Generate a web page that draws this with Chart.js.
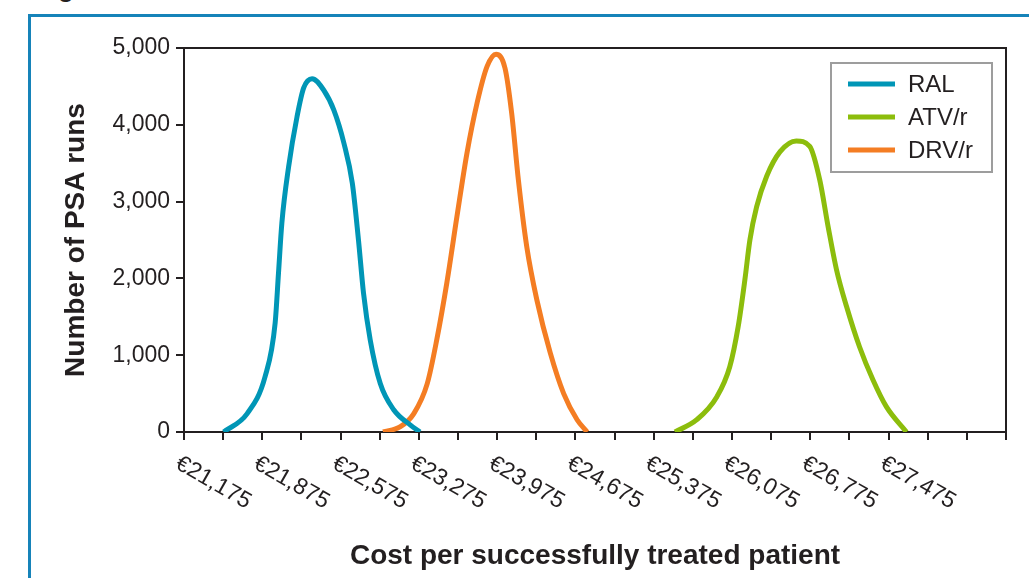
<!DOCTYPE html>
<html>
<head>
<meta charset="utf-8">
<script src="https://cdn.jsdelivr.net/npm/chart.js@4.4.1/dist/chart.umd.min.js"></script>
<style>
  html, body { margin: 0; padding: 0; background: #fff; overflow: hidden; }
  #wrap { position: relative; width: 1029px; height: 578px; overflow: hidden; }
  #frame { position: absolute; left: 28px; top: 14px; width: 1100px; height: 700px; border: 3px solid #1683b9; box-sizing: border-box; }
  #fig { position: absolute; left: 35px; top: -27px; line-height: 30px; font: bold 26px 'Liberation Sans', Arial, sans-serif; color: #231f20; white-space: nowrap; }
  canvas { position: absolute; left: 0; top: 0; }
</style>
</head>
<body>
<div id="wrap">
  <div id="fig">Figure 2</div>
  <div id="frame"></div>
  <canvas id="psaChart" width="1029" height="578"></canvas>
</div>
<script>
// x tick labels (every second tick)
const xTickValues = [21175, 21875, 22575, 23275, 23975, 24675, 25375, 26075, 26775, 27475];
const xTickLabels = ['€21,175', '€21,875', '€22,575', '€23,275', '€23,975', '€24,675', '€25,375', '€26,075', '€26,775', '€27,475'];

const seriesNames = ['RAL', 'ATV/r', 'DRV/r'];
const seriesColors = ['#0096b6', '#8cbd0c', '#f47d23'];

// RAL
const ralCost = [21530, 21740, 21900, 21990, 22020, 22050, 22110, 22185, 22245, 22320, 22425, 22515, 22605, 22680, 22735, 22780, 22840, 22930, 23050, 23200, 23285];
const ralRuns = [0, 240, 720, 1420, 2070, 2720, 3450, 4100, 4480, 4600, 4450, 4190, 3760, 3240, 2500, 1810, 1200, 630, 290, 90, 0];

// ATV/r
const atvCost = [25565, 25760, 25940, 26055, 26130, 26190, 26235, 26295, 26385, 26505, 26650, 26770, 26860, 26935, 27010, 27100, 27215, 27335, 27455, 27635];
const atvRuns = [0, 160, 460, 850, 1370, 1980, 2500, 2930, 3330, 3650, 3790, 3720, 3280, 2670, 2110, 1630, 1110, 680, 330, 0];

// DRV/r
const drvCost = [22955, 23110, 23230, 23350, 23435, 23525, 23615, 23705, 23795, 23885, 23965, 24045, 24105, 24165, 24240, 24330, 24450, 24570, 24690, 24780];
const drvRuns = [0, 70, 240, 630, 1200, 1940, 2800, 3630, 4280, 4760, 4920, 4740, 4150, 3280, 2410, 1720, 1030, 500, 160, 0];

const fontFam = "'Liberation Sans', Arial, Helvetica, sans-serif";
const ink = '#231f20';

const toPoints = (xs, ys) => xs.map((x, i) => ({ x: x, y: ys[i] }));

const datasets = [
  { label: seriesNames[0], data: toPoints(ralCost, ralRuns), borderColor: seriesColors[0] },
  { label: seriesNames[1], data: toPoints(atvCost, atvRuns), borderColor: seriesColors[1] },
  { label: seriesNames[2], data: toPoints(drvCost, drvRuns), borderColor: seriesColors[2] }
];

// top + right edges of the plot box
const boxPlugin = {
  id: 'box',
  beforeDatasetsDraw(chart) {
    const { ctx, chartArea: a } = chart;
    ctx.save();
    ctx.strokeStyle = ink;
    ctx.lineWidth = 2;
    ctx.beginPath();
    ctx.moveTo(a.left, a.top);
    ctx.lineTo(a.right, a.top);
    ctx.lineTo(a.right, a.bottom);
    ctx.stroke();
    ctx.restore();
  }
};

// rotated x labels, going down to the right from the tick
const xLabelPlugin = {
  id: 'xLabels',
  afterDraw(chart) {
    const { ctx } = chart;
    const xs = chart.scales.x;
    ctx.save();
    ctx.font = '23px ' + fontFam;
    ctx.fillStyle = ink;
    ctx.textAlign = 'left';
    ctx.textBaseline = 'top';
    xTickValues.forEach((v, i) => {
      const px = xs.getPixelForValue(v);
      ctx.save();
      ctx.translate(px - 1, xs.top + 20);
      ctx.rotate(Math.PI / 6);
      ctx.fillText(xTickLabels[i], 0, 0);
      ctx.restore();
    });
    ctx.restore();
  }
};

// boxed legend inside the plot, top right
const legendPlugin = {
  id: 'boxLegend',
  afterDraw(chart) {
    const { ctx, chartArea: a } = chart;
    const w = 161, h = 109;
    const x = a.right - 14 - w, y = a.top + 15;
    ctx.save();
    ctx.fillStyle = '#fff';
    ctx.fillRect(x, y, w, h);
    ctx.strokeStyle = '#9d9d9d';
    ctx.lineWidth = 2;
    ctx.strokeRect(x, y, w, h);
    ctx.font = '24px ' + fontFam;
    ctx.textBaseline = 'middle';
    ctx.textAlign = 'left';
    chart.data.datasets.forEach((ds, i) => {
      const ly = y + 21 + i * 33;
      ctx.strokeStyle = ds.borderColor;
      ctx.lineWidth = 5;
      ctx.beginPath();
      ctx.moveTo(x + 17, ly);
      ctx.lineTo(x + 64, ly);
      ctx.stroke();
      ctx.fillStyle = ink;
      ctx.fillText(ds.label, x + 77, ly + 1);
    });
    ctx.restore();
  }
};

const ctx = document.getElementById('psaChart').getContext('2d');

const psaChart = new Chart(ctx, {
  type: 'line',
  data: { datasets: datasets },
  options: {
    responsive: false,
    animation: false,
    layout: { padding: { left: 40, top: 48, right: 23, bottom: 0 } },
    elements: {
      point: { radius: 0 },
      line: { borderWidth: 5, cubicInterpolationMode: 'monotone', fill: false, capBezierPoints: true }
    },
    plugins: {
      legend: { display: false },
      tooltip: { enabled: false }
    },
    scales: {
      x: {
        type: 'linear',
        min: 21175,
        max: 28525,
        afterFit: s => { s.height = 146; },
        ticks: { display: false, stepSize: 350, maxTicksLimit: 40 },
        grid: { drawOnChartArea: false, drawTicks: true, tickLength: 8, color: ink, lineWidth: 2 },
        border: { color: ink, width: 2 },
        title: {
          display: true,
          text: 'Cost per successfully treated patient',
          color: ink,
          font: { family: fontFam, size: 28, weight: 'bold' },
          padding: { top: 0, bottom: 5 }
        }
      },
      y: {
        min: 0,
        max: 5000,
        afterFit: s => { s.width = 144; },
        ticks: { stepSize: 1000, padding: 6, color: ink, font: { family: fontFam, size: 23 } },
        grid: { drawOnChartArea: false, drawTicks: true, tickLength: 8, color: ink, lineWidth: 2 },
        border: { color: ink, width: 2 },
        title: {
          display: true,
          text: 'Number of PSA runs',
          color: ink,
          font: { family: fontFam, size: 28, weight: 'bold' },
          padding: { top: 19, bottom: 0 }
        }
      }
    }
  },
  plugins: [boxPlugin, xLabelPlugin, legendPlugin]
});
</script>
</body>
</html>
